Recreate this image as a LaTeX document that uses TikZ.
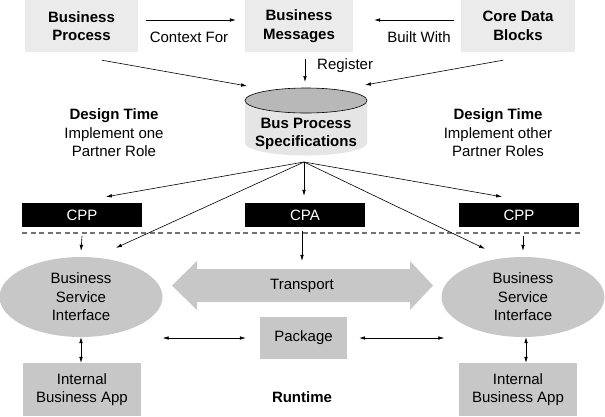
\documentclass[tikz,border=0pt]{standalone}
\usepackage{fontspec}
\setmainfont{Liberation Sans}
\usetikzlibrary{shapes, arrows.meta, positioning, calc}

\tikzset{
    lightbox/.style={fill=black!8, minimum height=52pt, inner sep=0pt, align=center, font=\bfseries},
    graybox/.style={fill=black!22, inner sep=0pt, align=center},
    blackbox/.style={fill=black, text=white, minimum width=120pt, minimum height=24pt, inner sep=0pt},
    bsi/.style={ellipse, fill=black!22, minimum width=163pt, minimum height=80pt, inner sep=0pt, align=center},
    link/.style={-{Latex[length=6pt,width=3.6pt]}, line width=0.6pt},
    twoway/.style={{Latex[length=6pt,width=3.6pt]}-{Latex[length=6pt,width=3.6pt]}, line width=0.6pt},
}

\begin{document}
\fontsize{15}{18.5}\selectfont
\begin{tikzpicture}[x=1pt, y=-1pt]
    \useasboundingbox (0,0) rectangle (605,416);

    % Design time - top row
    \node[lightbox, minimum width=113pt] (bp) at (81.5,26) {Business\\Process};
    \node[lightbox, minimum width=108pt] (bm) at (299,26) {Business\\Messages};
    \node[lightbox, minimum width=114pt] (cdb) at (518,26) {Core Data\\Blocks};
    \draw[link] ([shift={(8pt,6pt)}]bp.east) -- ([shift={(-9pt,6pt)}]bm.west);
    \node (ctx) at (189,37) {Context For};
    \draw[link] ([shift={(-7pt,6pt)}]cdb.west) -- ([shift={(21pt,6pt)}]bm.east);
    \node (built) at (419,37) {Built With};

    % Bus process specifications (store)
    \fill[black!10] (245,100.5) -- (245,143)
        arc[start angle=180, end angle=0, x radius=61, y radius=12.5] -- (367,100.5) -- cycle;
    \draw[fill=black!28, line width=0.6pt] (306,100.5) ellipse[x radius=61, y radius=12.5];
    \node[font=\bfseries, align=center] (bps) at (306,134) {Bus Process\\Specifications};
    \coordinate (bpsW) at (247,86);
    \coordinate (bpsN) at (305,82);
    \coordinate (bpsE) at (365,85);
    \coordinate (bpsS) at (304,162);
    \draw[link] ([shift={(20.5pt,-8pt)}]bp.south) -- (bpsW);
    \draw[link] ([shift={(6pt,-7pt)}]bm.south) -- (bpsN);
    \node[right] (reg) at (312,66) {Register};
    \draw[link] ([shift={(-15pt,-8pt)}]cdb.south) -- (bpsE);

    % Partner roles
    \node[align=center] (dtl) at (114,133) {\textbf{Design Time}\\Implement one\\Partner Role};
    \node[align=center] (dtr) at (498,133) {\textbf{Design Time}\\Implement other\\Partner Roles};

    % Profiles and agreement
    \node[blackbox] (cppl) at (82,215) {CPP};
    \node[blackbox] (cpa) at (305,215) {CPA};
    \node[blackbox] (cppr) at (519,215) {CPP};
    \draw[dashed, dash pattern=on 5pt off 3.5pt, black!55, line width=1.4pt] (22,233) -- (580,233);

    % Runtime
    \node[bsi] (bsil) at (81,297) {Business\\Service\\Interface};
    \node[bsi] (bsir) at (523,297) {Business\\Service\\Interface};
    \fill[black!22] (172,285.5) -- (197,261) -- (197,269) -- (410,269) -- (410,261) -- (433,285.5)
        -- (410,310) -- (410,302) -- (197,302) -- (197,310) -- cycle;
    \node[minimum height=33pt, inner sep=0pt] (tr) at (302,285.5) {Transport};
    \node[graybox, minimum width=87pt, minimum height=42pt] (pkg) at (303.5,338) {Package};
    \node[graybox, minimum width=118pt, minimum height=53pt] (appl) at (82,389.5) {Internal\\Business App};
    \node[graybox, minimum width=118pt, minimum height=53pt] (appr) at (518,389.5) {Internal\\Business App};
    \node[font=\bfseries] (rt) at (302,397) {Runtime};

    % Spec fan-out
    \draw[link] (bpsS) -- ([shift={(24pt,6pt)}]cppl.north);
    \draw[link] (bpsS) -- ([yshift=7pt]bpsS |- cpa.north);
    \draw[link] (bpsS) -- ([shift={(-17pt,6pt)}]cppr.north);
    \draw[link] (bpsS) -- ([shift={(35pt,9pt)}]bsil.north);
    \draw[link] (bpsS) -- ([shift={(-38pt,8pt)}]bsir.north);

    % Below the line
    \draw[link] ([yshift=-9pt]cppl.south) -- ([yshift=6pt]bsil.north);
    \draw[link] ([yshift=-9pt]cppr.south -| bsir.north) -- ([yshift=6pt]bsir.north);
    \draw[link] ([yshift=-4pt]cpa.south -| tr.north) -- ([yshift=8pt]tr.north);
    \draw[twoway] (bsil.east |- pkg.west) -- ([xshift=-14pt]pkg.west);
    \draw[twoway] ([xshift=12pt]pkg.east) -- ([xshift=3pt]bsir.west |- pkg.east);
    \draw[twoway] (bsil.south) -- (bsil.south |- appl.north);
    \draw[twoway] ([xshift=3pt]bsir.south) -- ([xshift=3pt]bsir.south |- appr.north);
\end{tikzpicture}
\end{document}
